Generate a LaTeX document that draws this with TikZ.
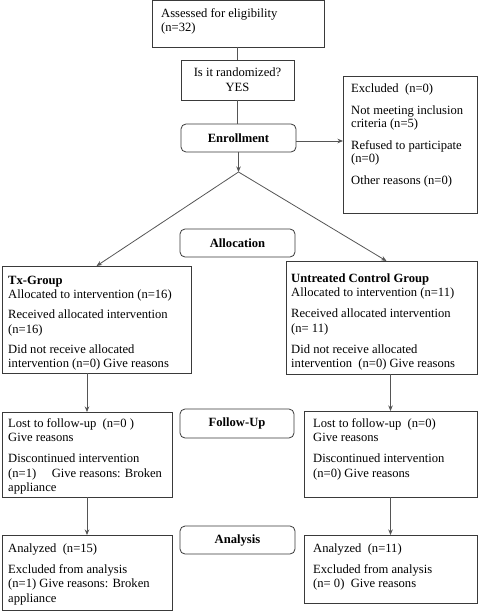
\documentclass[tikz,border=0pt]{standalone}
\usepackage{fontspec}
\setmainfont{Liberation Serif}
\usetikzlibrary{arrows.meta}
\newcommand\fsA{\fontsize{12.6}{14.5}\selectfont}
\newcommand\fsB{\fontsize{12.6}{12.8}\selectfont}
\definecolor{boxc}{HTML}{3A3A3A}
\definecolor{linec}{HTML}{555555}
\tikzset{
 bx/.style={draw=boxc, line width=0.8pt, anchor=north west, inner sep=0pt, outer sep=0pt},
 rbx/.style={bx, rounded corners=5pt, font=\fsA\bfseries},
 txt/.style={anchor=north west, inner sep=0pt, align=left, font=\fsA},
 con/.style={draw=linec, line width=0.8pt},
 arr/.style={con, -{Stealth[length=5.5pt,width=4.5pt]}},
}
\begin{document}
\begin{tikzpicture}[x=1pt,y=-1pt]
\fill[white] (0,0) rectangle (478,612);
\useasboundingbox (0,0) rectangle (478,612);
% boxes
\node[bx, minimum width=172pt, minimum height=46.5pt] (assess) at (152,0.5) {};
\node[bx, minimum width=113pt, minimum height=40pt, align=center, font=\fontsize{12.6}{15}\selectfont] (rand) at (181,60) {Is it randomized?\\YES};
\node[rbx, minimum width=115pt, minimum height=28pt] (enroll) at (181,124) {Enrollment};
\node[bx, minimum width=134pt, minimum height=137pt] (excl) at (343,76) {};
\node[rbx, minimum width=115pt, minimum height=28pt] (alloc) at (180,229) {Allocation};
\node[bx, minimum width=189pt, minimum height=107pt] (tx) at (2,266) {};
\node[bx, minimum width=191pt, minimum height=113pt] (ctrl) at (286,261) {};
\node[bx, minimum width=170pt, minimum height=85pt] (lostA) at (2,412) {};
\node[rbx, minimum width=114pt, minimum height=29pt] (follow) at (180,409) {Follow-Up};
\node[bx, minimum width=173pt, minimum height=86pt] (lostB) at (304,411) {};
\node[rbx, minimum width=115pt, minimum height=28pt] (analysis) at (180,526) {Analysis};
\node[bx, minimum width=170pt, minimum height=75pt] (anA) at (2,535) {};
\node[bx, minimum width=173pt, minimum height=68pt] (anB) at (304,535) {};
% texts
\node[txt] (assessT) at (161,6.85) {\strut Assessed for eligibility\\(n=32)};
\node[txt, font=\fsB] (exclT) at (351,83.04) {\strut Excluded\ \ (n=0)\\[9.5pt]Not meeting inclusion\\criteria (n=5)\\[9.5pt]Refused to participate\\(n=0)\\[9.5pt]Other reasons (n=0)};
\node[txt] (txT) at (8,273.85) {\strut\textbf{Tx-Group}\\Allocated to intervention (n=16)\\[5.5pt]Received allocated intervention\\(n=16)\\[5.5pt]Did not receive allocated\\intervention (n=0) Give reasons};
\node[txt] (ctrlT) at (291,271.85) {\strut\textbf{Untreated Control Group}\\Allocated to intervention (n=11)\\[6.5pt]Received allocated intervention\\(n= 11)\\[6.5pt]Did not receive allocated\\intervention\ \ (n=0) Give reasons};
\node[txt] (lostAT) at (8,416.85) {\strut Lost to follow-up\ \ (n=0\ )\\Give reasons\\[6.5pt]Discontinued intervention\\(n=1)\hspace{15.5pt}Give reasons: Broken\\appliance};
\node[txt] (lostBT) at (313,416.85) {\strut Lost to follow-up\ \ (n=0)\\Give reasons\\[6.5pt]Discontinued intervention\\(n=0) Give reasons};
\node[txt] (anAT) at (8,541.85) {\strut Analyzed\ \ (n=15)\\[6.5pt]Excluded from analysis\\(n=1) Give reasons: Broken\\appliance};
\node[txt] (anBT) at (313,541.85) {\strut Analyzed\ \ (n=11)\\[6.5pt]Excluded from analysis\\(n= 0)\ \ Give reasons};
% connectors
\coordinate (split) at (238.5,172);
\draw[con] (assess.south -| rand.north) -- (rand.north);
\draw[con] (rand.south) -- (rand.south |- enroll.north);
\draw[arr] (enroll.east |- 0,141) -- (excl.west |- 0,141);
\draw[arr] (enroll.south) -- (split);
\draw[arr] (split) -- (tx.north);
\draw[arr] (split) -- ([xshift=5pt]ctrl.north);
\draw[arr] (lostA.north |- tx.south) -- (lostA.north);
\draw[arr] (lostB.north |- ctrl.south) -- (lostB.north);
\draw[arr] (lostA.south) -- (anA.north);
\draw[arr] (lostB.south) -- (anB.north);
\end{tikzpicture}
\end{document}
